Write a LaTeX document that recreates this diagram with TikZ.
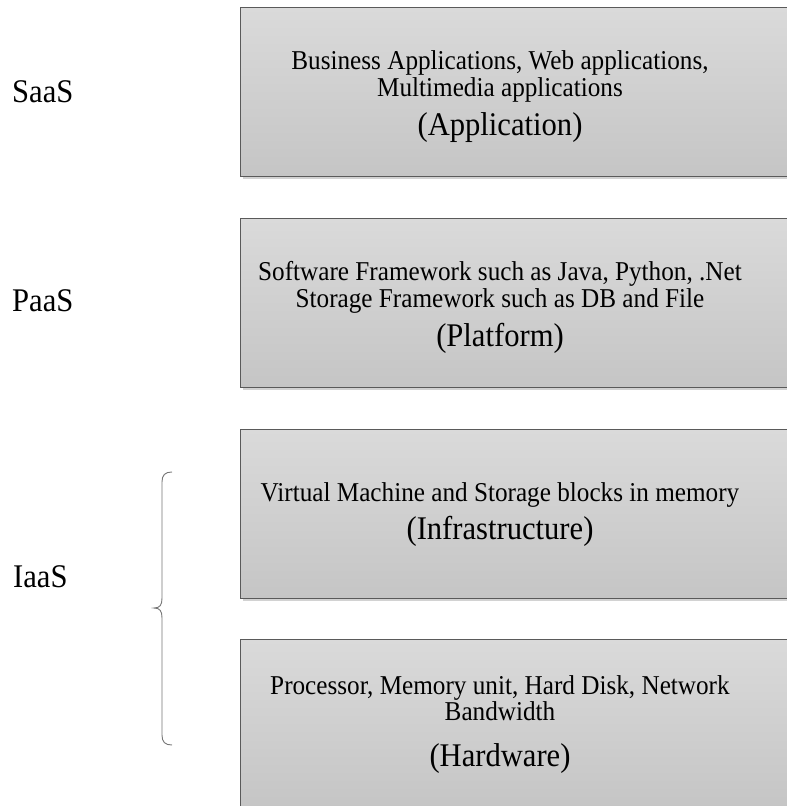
\documentclass[tikz,border=0pt]{standalone}
\usepackage{fontspec}
\setmainfont{Liberation Serif}
\usetikzlibrary{shadows}
\definecolor{boxtop}{HTML}{DADADA}
\definecolor{boxbottom}{HTML}{C5C5C5}
\definecolor{boxline}{HTML}{5A5A5A}
\definecolor{shade}{HTML}{D2D2D2}
\definecolor{bracecol}{HTML}{767676}
\tikzset{
  layer/.style={draw=boxline, line width=0.9pt, top color=boxtop, bottom color=boxbottom,
    drop shadow={shadow xshift=3pt, shadow yshift=-3pt, fill=shade, opacity=1},
    rectangle, anchor=north west, minimum width=600pt, minimum height=169pt, inner sep=0pt},
  tall/.style={yscale=1.08, transform shape},
  small/.style={tall, anchor=base, inner sep=0pt, font=\fontsize{25.2pt}{27pt}\selectfont},
  big/.style={tall, anchor=base, inner sep=0pt, font=\fontsize{30.6pt}{32pt}\selectfont},
  side/.style={tall, anchor=base west, inner sep=0pt, font=\fontsize{30.6pt}{32pt}\selectfont},
}
\begin{document}
\begin{tikzpicture}[x=1pt, y=-1pt]
\clip (0,0) rectangle (787,806);
\fill[white] (0,0) rectangle (787,806);

% service layers
\node[layer] (app) at (240,7) {};
\node[layer] (plat) at (240,218) {};
\node[layer] (infra) at (240,429) {};
\node[layer] (hw) at (240,639) {};

% Application layer
\node[small] (app1) at (500,69) {Business Applications, Web applications,};
\node[small] (app2) at (500,96) {Multimedia applications};
\node[big] (app3) at (500,135) {(Application)};

% Platform layer
\node[small] (plat1) at (500,280) {Software Framework such as Java, Python, .Net};
\node[small] (plat2) at (500,307) {Storage Framework such as DB and File};
\node[big] (plat3) at (500,346) {(Platform)};

% Infrastructure layer
\node[small] (infra1) at (500,501) {Virtual Machine and Storage blocks in memory};
\node[big] (infra2) at (500,539) {(Infrastructure)};

% Hardware layer
\node[small] (hw1) at (500,694) {Processor, Memory unit, Hard Disk, Network};
\node[small] (hw2) at (500,720) {Bandwidth};
\node[big] (hw3) at (500,766) {(Hardware)};

% service model labels
\node[side] (saas) at (12,102) {SaaS};
\node[side] (paas) at (12,311) {PaaS};
\node[side] (iaas) at (13,587) {IaaS};

% brace grouping the two IaaS layers
\draw[bracecol, line width=0.9pt]
  (172,472) .. controls (165,472) and (162,475) .. (162,482)
  -- (162,598) .. controls (162,605) and (160,608) .. (154,608)
  .. controls (160,608) and (162,611) .. (162,618)
  -- (162,735) .. controls (162,742) and (165,745) .. (172,745);
\end{tikzpicture}
\end{document}
